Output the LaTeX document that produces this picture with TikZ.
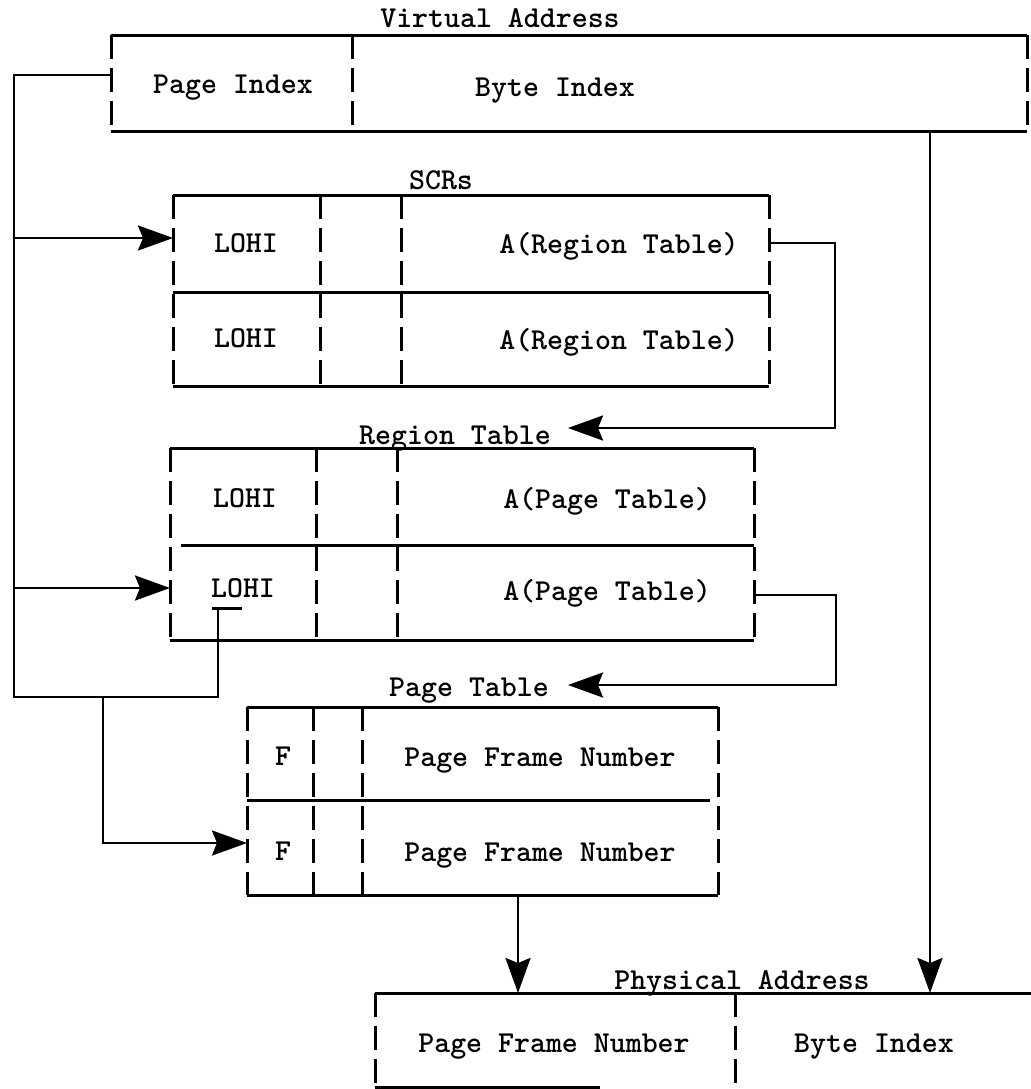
\documentclass[tikz,border=0pt]{standalone}
\usetikzlibrary{arrows.meta}

\begin{document}
\begin{tikzpicture}[x=0.5pt, y=-0.5pt,
  every node/.style={font=\ttfamily\bfseries\fontsize{15.2}{18}\selectfont,
    inner sep=0pt, text height=9.3pt, text depth=0pt},
  rule/.style={line width=1.5pt},
  side/.style={line width=1.5pt, dash pattern=on 12pt off 4.5pt},
  wire/.style={line width=1.4pt},
  feed/.style={wire, -{Stealth[length=17.5pt, width=12.5pt, inset=2.5pt]}}]
  \useasboundingbox (0,0) rectangle (1031,1089);

  % virtual address
  \node (vatitle) at (500,18) {Virtual Address};
  \node (vapage) at (233,84) {Page Index};
  \node (vabyte) at (555,87) {Byte Index};
  \coordinate (va-nw) at (111,35);  \coordinate (va-ne) at (1027,35);
  \coordinate (va-sw) at (111,131); \coordinate (va-se) at (1027,131);
  \draw[rule] (va-nw) -- (va-ne) (va-sw) -- (va-se);
  \draw[side] (va-nw) -- (va-sw) (va-ne) -- (va-se) (352,35) -- (352,131);

  % SCRs
  \node (scrtitle) at (441,180) {SCRs};
  \node (scrlo1) at (246,243) {LOHI};
  \node (scrlo2) at (246,338) {LOHI};
  \node (scrad1) at (619,244) {A(Region Table)};
  \node (scrad2) at (619,340) {A(Region Table)};
  \coordinate (scr-nw) at (173,195); \coordinate (scr-ne) at (769,195);
  \coordinate (scr-sw) at (173,386); \coordinate (scr-se) at (769,386);
  \draw[rule] (scr-nw) -- (scr-ne) (173,292) -- (769,292) (scr-sw) -- (scr-se);
  \draw[side] (scr-nw) -- (scr-sw) (scr-ne) -- (scr-se)
    (320,195) -- (320,386) (401,195) -- (401,386);

  % region table
  \node (regtitle) at (455,435) {Region Table};
  \node (reglo1) at (245,498) {LOHI};
  \node (reglo2) at (243,588) {LOHI};
  \node (regad1) at (607,499) {A(Page Table)};
  \node (regad2) at (607,591) {A(Page Table)};
  \coordinate (reg-nw) at (170,448); \coordinate (reg-ne) at (754,448);
  \coordinate (reg-sw) at (170,640); \coordinate (reg-se) at (754,640);
  \draw[rule] (reg-nw) -- (reg-ne) (181,545) -- (754,545) (reg-sw) -- (reg-se);
  \draw[side] (reg-nw) -- (reg-sw) (reg-ne) -- (reg-se)
    (316,448) -- (316,640) (397,448) -- (397,640);

  % page table
  \node (pgtitle) at (469,687) {Page Table};
  \node (pgf1) at (283,756) {F};
  \node (pgf2) at (283,851) {F};
  \node (pgfn1) at (540,757) {Page Frame Number};
  \node (pgfn2) at (540,852) {Page Frame Number};
  \coordinate (pg-nw) at (247,707); \coordinate (pg-ne) at (718,707);
  \coordinate (pg-sw) at (247,895); \coordinate (pg-se) at (718,895);
  \draw[rule] (pg-nw) -- (pg-ne) (247,800) -- (710,800) (pg-sw) -- (pg-se);
  \draw[side] (pg-nw) -- (pg-sw) (pg-ne) -- (pg-se)
    (313,707) -- (313,895) (362,707) -- (362,895);

  % physical address
  \node (patitle) at (742,980) {Physical Address};
  \node (pafn) at (554,1043) {Page Frame Number};
  \node (pabyte) at (874,1043) {Byte Index};
  \coordinate (pa-nw) at (375,993); \coordinate (pa-sw) at (375,1087);
  \draw[rule] (pa-nw) -- (1031,993) (pa-sw) -- (600,1087);
  \draw[side] (pa-nw) -- (pa-sw) (735,993) -- (735,1087);

  % ports
  \coordinate (va-out) at (111,75);
  \coordinate (scr-in) at (173,238);
  \coordinate (scr-out) at (769,243);
  \coordinate (reg-in) at (170,588);
  \coordinate (reg-out) at (754,595);
  \coordinate (reg-key) at (218,608);
  \coordinate (pg-in) at (247,843);
  \coordinate (bus) at (14,697);

  % connectors
  \draw[wire] (va-out) -- (14,75) -- (bus) -| (reg-key);
  \draw[rule] (212,608) -- (242,608);
  \draw[feed] (14,238) -- (scr-in);
  \draw[feed] (14,588) -- (reg-in);
  \draw[feed] (103,697) |- (pg-in);
  \draw[feed] (scr-out) -- (835,243) -- (835,428) -- (568,428);
  \draw[feed] (reg-out) -- (836,595) -- (836,685) -- (568,685);
  \draw[feed] (930,131) -- (930,993);
  \draw[feed] (518,895) -- (518,993);
\end{tikzpicture}
\end{document}
